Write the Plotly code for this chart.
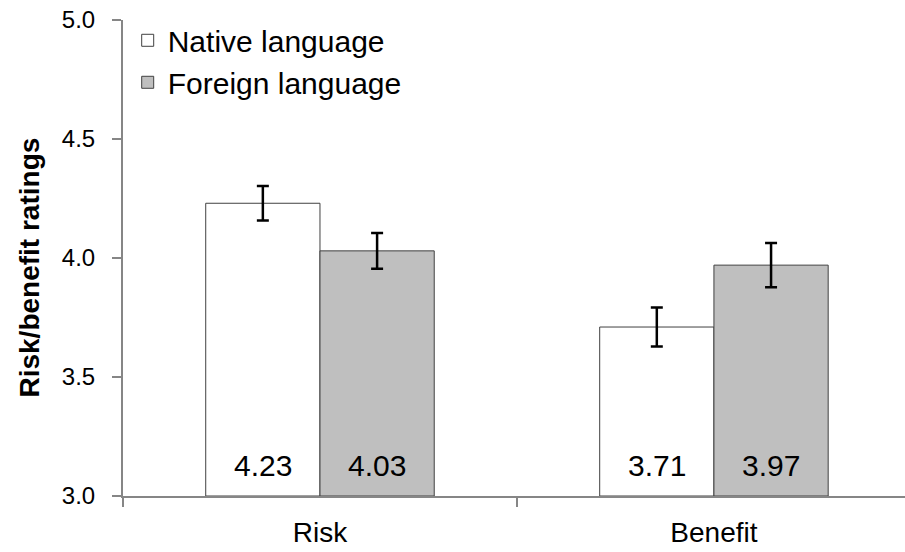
import plotly.graph_objects as go

categories = ["Risk", "Benefit"]
native_vals = [4.23, 3.71]
foreign_vals = [4.03, 3.97]
native_err = [0.072, 0.082]
foreign_err = [0.075, 0.093]
native_labels = ["4.23", "3.71"]
foreign_labels = ["4.03", "3.97"]
y_ticks = [3.0, 3.5, 4.0, 4.5, 5.0]
y_tick_labels = ["3.0", "3.5", "4.0", "4.5", "5.0"]
y_base = 3.0

FONT = "Liberation Sans, Arial, sans-serif"
BARGAP = 0.42

fig = go.Figure()
fig.add_trace(go.Bar(
    name="Native language", x=categories, y=[v - y_base for v in native_vals], base=y_base,
    marker=dict(color="white", line=dict(color="#404040", width=1)),
    error_y=dict(type="data", array=native_err, color="black", thickness=2.5, width=6),
))
fig.add_trace(go.Bar(
    name="Foreign language", x=categories, y=[v - y_base for v in foreign_vals], base=y_base,
    marker=dict(color="#bfbfbf", line=dict(color="#404040", width=1)),
    error_y=dict(type="data", array=foreign_err, color="black", thickness=2.5, width=6),
))

# value labels near bar bases
off = (1 - BARGAP) / 4
for i, cat in enumerate(categories):
    for lab, dx in ((native_labels[i], -off), (foreign_labels[i], off)):
        fig.add_annotation(x=i + dx, y=y_base, xref="x", yref="y", text=lab,
                           showarrow=False, yanchor="bottom", yshift=12,
                           font=dict(family=FONT, size=30, color="black"))

# y-axis title
fig.add_annotation(x=-93 / 782, y=0.48, xref="paper", yref="paper",
                   text="<b>Risk/benefit ratings</b>", textangle=-90, showarrow=False,
                   xanchor="center", yanchor="middle",
                   font=dict(family=FONT, size=28, color="black"))

fig.update_layout(
    width=905, height=552,
    margin=dict(l=123, r=0, t=20, b=56, autoexpand=False),
    paper_bgcolor="white", plot_bgcolor="white",
    barmode="group", bargap=BARGAP, bargroupgap=0,
    font=dict(family=FONT, color="black"),
    showlegend=True,
    legend=dict(x=0.006, y=1.012, xanchor="left", yanchor="top",
                font=dict(family=FONT, size=30, color="black"),
                bgcolor="rgba(0,0,0,0)", tracegroupgap=0, itemwidth=30),
)
fig.update_xaxes(
    range=[-0.5, 1.485], showgrid=False, showline=True, linecolor="#868686", linewidth=2,
    ticks="outside", tickson="boundaries", ticklen=9, tickcolor="#868686", tickwidth=2,
    ticklabelstandoff=10,
    tickfont=dict(family=FONT, size=28, color="black"), zeroline=False, automargin=False,
)
fig.update_yaxes(
    range=[3.0, 5.0], tickvals=y_ticks, ticktext=y_tick_labels, showgrid=False,
    showline=True, linecolor="#868686", linewidth=2,
    ticks="outside", ticklen=9, tickcolor="#868686", tickwidth=2,
    ticklabelstandoff=12, ticklabeloverflow="allow",
    tickfont=dict(family=FONT, size=24, color="black"), zeroline=False, automargin=False,
)

fig.write_html("out.html", config={"displayModeBar": False},
               post_script="document.body.style.margin='0';")
